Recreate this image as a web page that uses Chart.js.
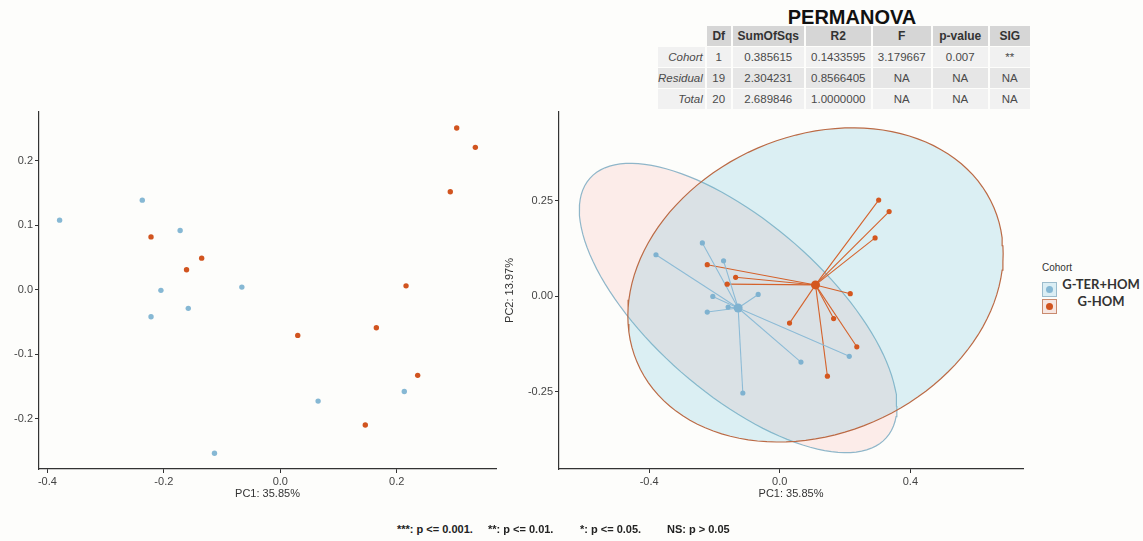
<!DOCTYPE html>
<html>
<head>
<meta charset="utf-8">
<script src="https://cdn.jsdelivr.net/npm/chart.js@4.4.1/dist/chart.umd.min.js"></script>
<style>
  body { margin: 0; width: 1143px; height: 541px; background: #fdfdfb; position: relative; overflow: hidden;
         font-family: "Liberation Sans", Arial, sans-serif; }
  canvas { position: absolute; }
  #ttl { position: absolute; left: 752px; top: 7px; width: 200px; text-align: center; font-weight: bold;
         font-size: 20px; line-height: 20px; color: #111; }
  #perm { position: absolute; left: 658px; top: 26px; border-collapse: separate; border-spacing: 0;
          table-layout: fixed; color: #4a4a4a; font-size: 11.5px; }
  #perm td, #perm th { padding: 0; height: 21px; text-align: center; box-sizing: border-box;
          border-right: 2px solid #fdfdfb; border-bottom: 1px solid #fdfdfb; white-space: nowrap; }
  #perm th { background: #d6d6d6; font-size: 12px; color: #333; }
  #perm th.rl, #perm td.rl { background: transparent; text-align: right; font-style: italic; padding-right: 2px; font-weight: normal; }
  #perm tr.odd td { background: #f1f1f1; }
  #perm tr.even td { background: #e6e6e6; }
  #legend { position: absolute; left: 1042px; top: 262px; width: 101px; height: 60px; }
  #legend .lt { position: absolute; left: 0; top: 0; font-size: 10px; color: #333; }
  #legend .key { position: absolute; left: 0; width: 15px; height: 15px; box-sizing: border-box; border: 1px solid; }
  #legend .key i { position: absolute; left: 3px; top: 3px; width: 7px; height: 7px; border-radius: 50%; }
  #legend .lab { position: absolute; left: 17px; width: 84px; text-align: center; font-family: Lato, sans-serif;
         font-weight: bold; font-size: 13px; color: #333; line-height: 15px; }
  #note span { position: absolute; top: 523px; font-weight: bold; font-size: 11px; color: #222; white-space: pre; }
</style>
</head>
<body>
<div id="ttl">PERMANOVA</div>
<table id="perm"></table>
<canvas id="pcaLeft" width="520" height="420" style="left:0;top:100px"></canvas>
<canvas id="pcaRight" width="545" height="420" style="left:495px;top:100px"></canvas>
<div id="legend"></div>
<div id="note"></div>
<script>
// PCoA coordinates (same samples in both panels)
const blueX = [-0.379, -0.237, -0.172, -0.205, -0.222, -0.158, -0.066, 0.065, -0.113, 0.213];
const blueY = [0.108, 0.139, 0.092, -0.001, -0.042, -0.029, 0.004, -0.173, -0.254, -0.158];
const orangeX = [-0.222, -0.135, -0.161, 0.216, 0.030, 0.165, 0.236, 0.146, 0.292, 0.303, 0.335];
const orangeY = [0.082, 0.049, 0.031, 0.006, -0.071, -0.059, -0.133, -0.210, 0.152, 0.251, 0.221];

const cohortTitle = 'Cohort';
const cohortNames = ['G-TER+HOM', 'G-HOM'];
const xTitle = 'PC1: 35.85%';
const yTitle = 'PC2: 13.97%';
const ellipseLevel = 0.95;

const leftXTicks = [-0.4, -0.2, 0, 0.2];
const leftXLabels = ['-0.4', '-0.2', '0.0', '0.2'];
const leftYTicks = [-0.2, -0.1, 0, 0.1, 0.2];
const leftYLabels = ['-0.2', '-0.1', '0.0', '0.1', '0.2'];
const rightXTicks = [-0.4, 0, 0.4];
const rightXLabels = ['-0.4', '0.0', '0.4'];
const rightYTicks = [-0.25, 0, 0.25];
const rightYLabels = ['-0.25', '0.00', '0.25'];

// PERMANOVA table
const tableHead = ['Df', 'SumOfSqs', 'R2', 'F', 'p-value', 'SIG'];
const tableRowNames = ['Cohort', 'Residual', 'Total'];
const tableCells = [
  ['1', '0.385615', '0.1433595', '3.179667', '0.007', '**'],
  ['19', '2.304231', '0.8566405', 'NA', 'NA', 'NA'],
  ['20', '2.689846', '1.0000000', 'NA', 'NA', 'NA']
];
const footNotes = ['***: p <= 0.001.', '**: p <= 0.01.', '*: p <= 0.05.', 'NS: p > 0.05'];
const footLeft = [397, 488, 580, 667];

const colWidths = [35, 26, 73, 67, 60, 57, 42];
const BLUE = '#86b8d4', ORANGE = '#d1541f';

// table
const tbl = document.getElementById('perm');
let html = '<colgroup>' + colWidths.map(w => `<col style="width:${w}px">`).join('') + '</colgroup>';
html += '<tr><th class="rl"></th>' + tableHead.map(h => `<th>${h}</th>`).join('') + '</tr>';
tableRowNames.forEach((r, i) => {
  html += `<tr class="${i % 2 ? 'even' : 'odd'}"><td class="rl">${r}</td>` +
    tableCells[i].map(c => `<td>${c}</td>`).join('') + '</tr>';
});
tbl.innerHTML = html;

const note = document.getElementById('note');
footNotes.forEach((t, i) => {
  const s = document.createElement('span');
  s.textContent = t;
  s.style.left = footLeft[i] + 'px';
  note.appendChild(s);
});

// legend
const lg = document.getElementById('legend');
lg.innerHTML = `<div class="lt">${cohortTitle}</div>
  <div class="key" style="top:20px;background:#dbeef4;border-color:#9cbccc"><i style="background:${BLUE}"></i></div>
  <div class="lab" style="top:15px">${cohortNames[0]}</div>
  <div class="key" style="top:37px;background:#f6e6e1;border-color:#c98a6e"><i style="background:${ORANGE}"></i></div>
  <div class="lab" style="top:32px">${cohortNames[1]}</div>`;

Chart.defaults.font.family = '"Liberation Sans", Arial, sans-serif';
Chart.defaults.font.size = 11;

function pts(xs, ys) {
  return xs.map((x, i) => ({ x: x, y: ys[i] }));
}
function mean(a) {
  return a.reduce((s, v) => s + v, 0) / a.length;
}

// normal-theory confidence ellipse (like stat_ellipse type = "norm")
function ellipse(xs, ys) {
  const n = xs.length, mx = mean(xs), my = mean(ys);
  let sxx = 0, syy = 0, sxy = 0;
  for (let i = 0; i < n; i++) {
    sxx += (xs[i] - mx) ** 2;
    syy += (ys[i] - my) ** 2;
    sxy += (xs[i] - mx) * (ys[i] - my);
  }
  sxx /= n - 1; syy /= n - 1; sxy /= n - 1;
  const d2 = n - 1;
  const q = d2 / 2 * (Math.pow(1 - ellipseLevel, -2 / d2) - 1);
  const r = Math.sqrt(2 * q);
  const l11 = Math.sqrt(sxx), l21 = sxy / l11, l22 = Math.sqrt(syy - l21 * l21);
  const out = [];
  for (let i = 0; i <= 120; i++) {
    const t = 2 * Math.PI * i / 120;
    out.push({ x: mx + r * l11 * Math.cos(t), y: my + r * (l21 * Math.cos(t) + l22 * Math.sin(t)) });
  }
  return out;
}

function axis(min, max, ticks, labels, fit, title, titlePad) {
  return {
    type: 'linear', min: min, max: max,
    afterBuildTicks: s => { s.ticks = ticks.map(v => ({ value: v })); },
    afterFit: fit,
    ticks: { color: '#444', padding: 2, autoSkip: false, maxRotation: 0, font: { size: 11 },
             callback: (v, i) => labels[i] },
    grid: { drawOnChartArea: false, drawTicks: true, tickLength: 4, color: '#333', lineWidth: 1 },
    border: { display: true, color: '#333', width: 1.2 },
    title: { display: !!title, text: title, color: '#333', font: { size: 11 }, padding: titlePad }
  };
}

const baseOpts = {
  responsive: false, animation: false, devicePixelRatio: 1,
  plugins: { legend: { display: false }, tooltip: { enabled: false } }
};

new Chart(document.getElementById('pcaLeft'), {
  type: 'scatter',
  data: {
    datasets: [
      { data: pts(blueX, blueY), backgroundColor: BLUE, borderWidth: 0, pointRadius: 2.7 },
      { data: pts(orangeX, orangeY), backgroundColor: ORANGE, borderWidth: 0, pointRadius: 2.7 }
    ]
  },
  options: Object.assign({}, baseOpts, {
    layout: { padding: { left: 0, top: 12, right: 24, bottom: 17 } },
    scales: {
      x: axis(-0.4144, 0.3705, leftXTicks, leftXLabels, s => { s.height = 34; }, xTitle, { top: 0, bottom: 2 }),
      y: axis(-0.2784, 0.2759, leftYTicks, leftYLabels, s => { s.width = 39; }, '', 0)
    }
  })
});

// right panel: ellipses, spiders to centroid, points, centroids
const groups = [
  { xs: blueX, ys: blueY, pt: '#7fb2d0', line: '#8dbbd6', edge: '#8fb6c9', fill: 'rgba(248,118,109,0.12)' },
  { xs: orangeX, ys: orangeY, pt: '#d4571f', line: '#d4622c', edge: '#bb6a45', fill: 'rgba(100,190,215,0.22)' }
];
const rightSets = [];
groups.forEach((g, gi) => {
  const cx = mean(g.xs), cy = mean(g.ys);
  rightSets.push({ data: ellipse(g.xs, g.ys), showLine: true, fill: 'shape', backgroundColor: g.fill,
    borderColor: g.edge, borderWidth: 1.2, pointRadius: 0, tension: 0, order: 20 - gi });
  g.xs.forEach((x, i) => {
    rightSets.push({ data: [{ x: x, y: g.ys[i] }, { x: cx, y: cy }], showLine: true, borderColor: g.line,
      borderWidth: 1.1, pointRadius: 0, order: 5 });
  });
  rightSets.push({ data: pts(g.xs, g.ys), backgroundColor: g.pt, borderWidth: 0, pointRadius: 2.6, order: 2 });
  rightSets.push({ data: [{ x: cx, y: cy }], backgroundColor: g.pt, borderWidth: 0, pointRadius: 4.5, order: 1 });
});

new Chart(document.getElementById('pcaRight'), {
  type: 'scatter',
  data: { datasets: rightSets },
  options: Object.assign({}, baseOpts, {
    layout: { padding: { left: 0, top: 12, right: 17, bottom: 17 } },
    scales: {
      x: axis(-0.676, 0.745, rightXTicks, rightXLabels, s => { s.height = 34; }, xTitle, { top: 0, bottom: 2 }),
      y: axis(-0.4529, 0.4817, rightYTicks, rightYLabels, s => { s.width = 64; }, yTitle, { top: 8, bottom: 0 })
    }
  })
});
</script>
</body>
</html>
